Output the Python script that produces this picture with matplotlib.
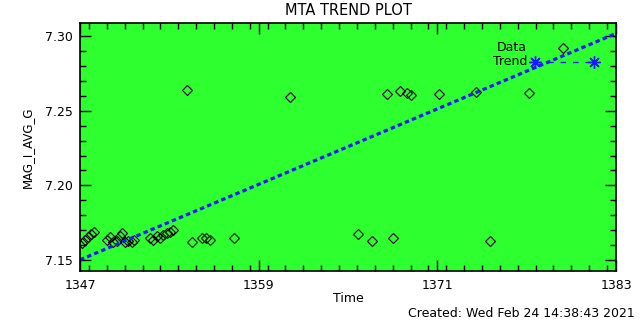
import matplotlib
matplotlib.use("Agg")
import matplotlib.pyplot as plt
from matplotlib.ticker import MultipleLocator, FixedLocator

# Data
data_time = [1347.13, 1347.34, 1347.54, 1347.74, 1347.94,
             1348.79, 1349.01, 1349.24, 1349.51, 1349.69, 1349.84, 1350.02, 1350.24, 1350.47, 1350.63,
             1351.70, 1351.92, 1352.15, 1352.37, 1352.59, 1352.82, 1353.05, 1353.27,
             1354.21, 1354.49, 1355.19, 1355.43, 1355.76, 1357.36, 1361.12,
             1365.69, 1366.63, 1367.65, 1368.04, 1368.49, 1368.96, 1369.20,
             1371.13, 1373.60, 1374.54, 1377.16, 1379.44]
data_mag = [7.1614, 7.1635, 7.1655, 7.1675, 7.1688,
            7.1635, 7.1653, 7.1623, 7.1628, 7.1657, 7.1680, 7.1623, 7.1628, 7.1623, 7.1635,
            7.1646, 7.1635, 7.1657, 7.1646, 7.1668, 7.1680, 7.1690, 7.1702,
            7.2641, 7.1621, 7.1648, 7.1646, 7.1630, 7.1646, 7.2594,
            7.1673, 7.1626, 7.2615, 7.1646, 7.2635, 7.2623, 7.2607,
            7.2610, 7.2628, 7.1628, 7.2623, 7.2924]
trend_time = [1347.0, 1383.0]
trend_mag = [7.150, 7.302]
x_ticks = [1347, 1359, 1371, 1383]
y_ticks = [7.15, 7.20, 7.25, 7.30]

green = '#2eff2e'
blue = '#1a1aff'

fig = plt.figure(figsize=(6.4, 3.2), dpi=100)
ax = fig.add_axes([80/640, 1-271/320, 536/640, 248/320])
ax.set_facecolor(green)

ax.plot(data_time, data_mag, linestyle='none', marker='D', markersize=5.2,
        markerfacecolor='none', markeredgecolor='black', markeredgewidth=0.8)
ax.plot(trend_time, trend_mag, color=blue, linewidth=2.3, dashes=(1.4, 1.0),
        dash_capstyle='butt')

ax.set_xlim(1347, 1383)
ax.set_ylim(7.1425, 7.309)
ax.xaxis.set_major_locator(FixedLocator(x_ticks))
ax.yaxis.set_major_locator(FixedLocator(y_ticks))
ax.xaxis.set_minor_locator(MultipleLocator(1.2))
ax.yaxis.set_minor_locator(MultipleLocator(0.01))
ax.set_xticklabels([str(t) for t in x_ticks])
ax.set_yticklabels(['%.2f' % t for t in y_ticks])
ax.tick_params(which='both', direction='in', top=True, right=True, color='black',
               labelsize=9, width=1)
ax.tick_params(which='major', length=8)
ax.tick_params(axis='x', which='major', pad=6)
ax.tick_params(axis='y', which='major', pad=5)
ax.tick_params(which='minor', length=4)
for s in ax.spines.values():
    s.set_linewidth(1.2)

ax.set_title('MTA TREND PLOT', fontsize=10.5, pad=6)
ax.set_xlabel('Time', fontsize=9, labelpad=0)
ax.set_ylabel('MAG_I_AVG_G', fontsize=8.5, labelpad=8)

# Legend
ax.text(0.834, 0.903, 'Data', transform=ax.transAxes, ha='right', va='center', fontsize=9)
ax.text(0.834, 0.843, 'Trend', transform=ax.transAxes, ha='right', va='center', fontsize=9)
ax.plot([0.849, 0.959], [0.843, 0.843], transform=ax.transAxes, color=blue,
        linewidth=1, dashes=(4, 5), marker=(8, 2, 0), markersize=9, markeredgewidth=1)

fig.text(0.992, 0.0, 'Created: Wed Feb 24 14:38:43 2021', ha='right', va='bottom', fontsize=9)

fig.savefig('out.png', dpi=100, facecolor='white')
